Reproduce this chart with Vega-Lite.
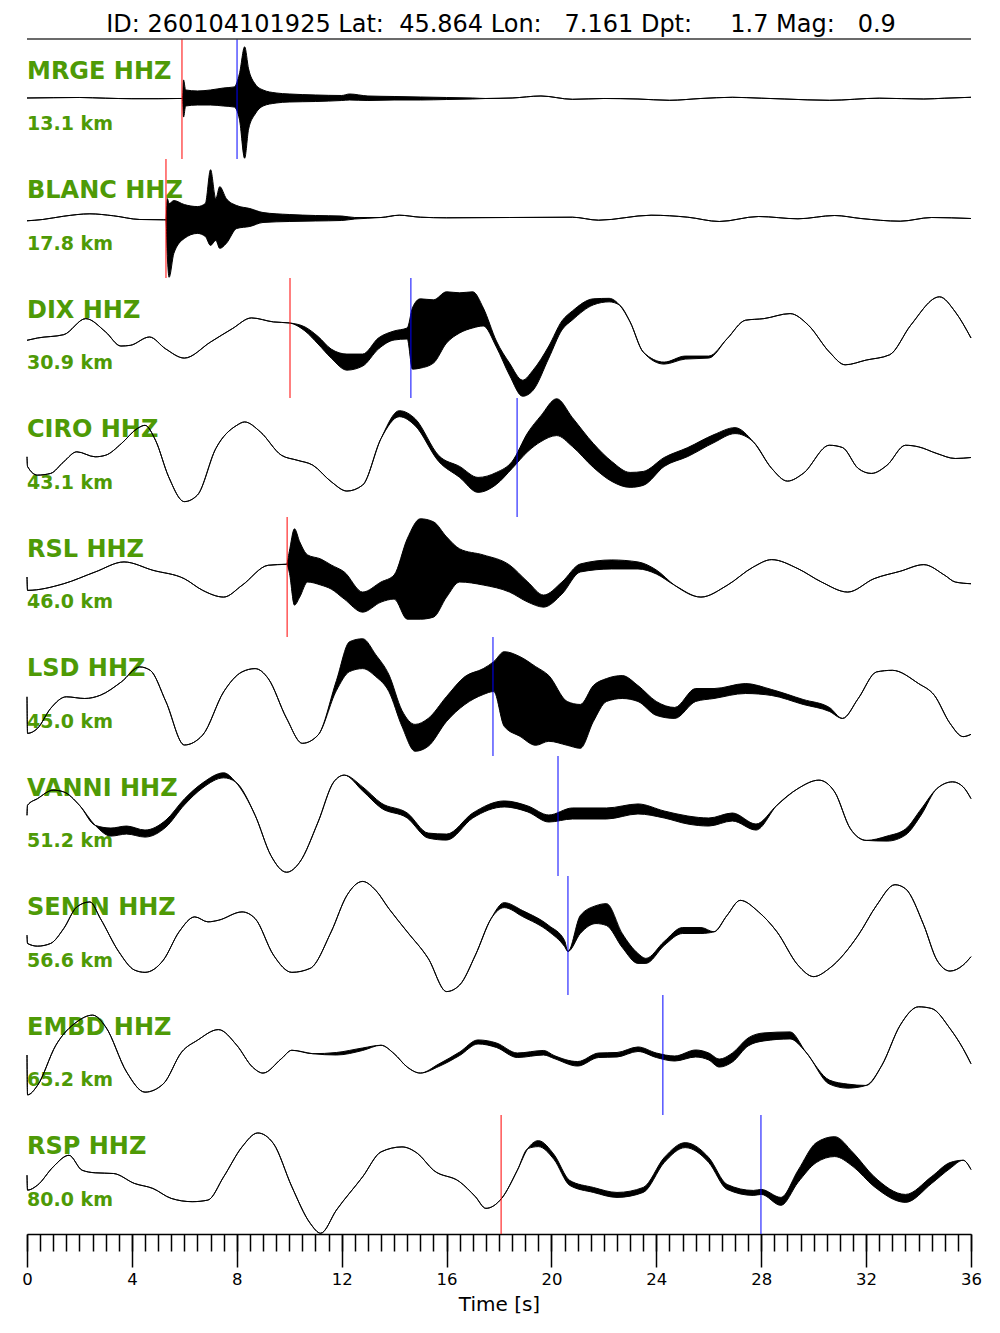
{
"$schema": "https://vega.github.io/schema/vega-lite/v6.json",
"padding": {"left": 21, "top": 13, "right": 5, "bottom": 5},
"bounds": "flush",
"spacing": 0,
"title": {"text": "ID: 260104101925 Lat:\u00a0\u00a045.864 Lon:\u00a0\u00a0\u00a07.161 Dpt:\u00a0\u00a0\u00a0\u00a0\u00a01.7 Mag:\u00a0\u00a0\u00a00.9", "font": "DejaVu Sans", "fontSize": 24, "fontWeight": "normal", "color": "black", "anchor": "middle", "offset": 1, "dx": 2, "frame": "group"},
"config": {"view": {"stroke": null}, "concat": {"spacing": 0}},
"datasets": {
"labels": [
{"sta": "MRGE", "name": "MRGE HHZ", "dist": "13.1 km"},
{"sta": "BLANC", "name": "BLANC HHZ", "dist": "17.8 km"},
{"sta": "DIX", "name": "DIX HHZ", "dist": "30.9 km"},
{"sta": "CIRO", "name": "CIRO HHZ", "dist": "43.1 km"},
{"sta": "RSL", "name": "RSL HHZ", "dist": "46.0 km"},
{"sta": "LSD", "name": "LSD HHZ", "dist": "45.0 km"},
{"sta": "VANNI", "name": "VANNI HHZ", "dist": "51.2 km"},
{"sta": "SENIN", "name": "SENIN HHZ", "dist": "56.6 km"},
{"sta": "EMBD", "name": "EMBD HHZ", "dist": "65.2 km"},
{"sta": "RSP", "name": "RSP HHZ", "dist": "80.0 km"}
],
"picks": [
{"sta": "MRGE", "t": 5.91, "phase": "P"},
{"sta": "MRGE", "t": 8.01, "phase": "S"},
{"sta": "BLANC", "t": 5.3, "phase": "P"},
{"sta": "DIX", "t": 10.03, "phase": "P"},
{"sta": "DIX", "t": 14.64, "phase": "S"},
{"sta": "CIRO", "t": 18.69, "phase": "S"},
{"sta": "RSL", "t": 9.92, "phase": "P"},
{"sta": "LSD", "t": 17.77, "phase": "S"},
{"sta": "VANNI", "t": 20.25, "phase": "S"},
{"sta": "SENIN", "t": 20.63, "phase": "S"},
{"sta": "EMBD", "t": 24.25, "phase": "S"},
{"sta": "RSP", "t": 18.08, "phase": "P"},
{"sta": "RSP", "t": 27.99, "phase": "S"}
],
"MRGE": [
{"t":0,"lo":1,"hi":1},{"t":1,"lo":1.3,"hi":1.3},{"t":2,"lo":1.5,"hi":1.5},{"t":3,"lo":0.8,"hi":0.8},{"t":4,"lo":0.3,"hi":0.3},{"t":5,"lo":0.3,"hi":0.3},{"t":5.8,"lo":0.5,"hi":0.5},{"t":5.93,"lo":0.5,"hi":0.5},{"t":5.97,"lo":-18,"hi":19},{"t":6.05,"lo":-7,"hi":9},{"t":6.5,"lo":-6,"hi":8},{"t":7,"lo":-6,"hi":9},{"t":7.5,"lo":-7,"hi":11},{"t":7.9,"lo":-8,"hi":12},{"t":8.1,"lo":-20,"hi":25},{"t":8.3,"lo":-59,"hi":52},{"t":8.45,"lo":-30,"hi":30},{"t":8.7,"lo":-15,"hi":15},{"t":9,"lo":-7,"hi":9},{"t":9.5,"lo":-4,"hi":6},{"t":10,"lo":-3,"hi":5},{"t":11,"lo":-2.5,"hi":4},{"t":12,"lo":-1.5,"hi":3.5},{"t":12.3,"lo":-1,"hi":5},{"t":13,"lo":-1.5,"hi":3},{"t":14,"lo":-1,"hi":2.5},{"t":15,"lo":-1,"hi":2},{"t":16,"lo":-0.5,"hi":1.5},{"t":17,"lo":0,"hi":1},{"t":17.5,"lo":0.5,"hi":0.5},{"t":18.5,"lo":1,"hi":1},{"t":19.6,"lo":3,"hi":3},{"t":20.8,"lo":-0.3,"hi":-0.3},{"t":22,"lo":0.5,"hi":0.5},{"t":23.3,"lo":0,"hi":0},{"t":24.5,"lo":-1.3,"hi":-1.3},{"t":25.7,"lo":0.5,"hi":0.5},{"t":26.9,"lo":1.7,"hi":1.7},{"t":28,"lo":0.8,"hi":0.8},{"t":28.9,"lo":0,"hi":0},{"t":30.6,"lo":-1.3,"hi":-1.3},{"t":32.5,"lo":0.8,"hi":0.8},{"t":34.2,"lo":0,"hi":0},{"t":35,"lo":0.8,"hi":0.8},{"t":36,"lo":1.7,"hi":1.7}
],
"BLANC": [
{"t":0,"lo":-2.3,"hi":-2.3},{"t":0.6,"lo":-1,"hi":-1},{"t":1.4,"lo":2.3,"hi":2.3},{"t":2.4,"lo":4.7,"hi":4.7},{"t":3.3,"lo":2.7,"hi":2.7},{"t":4.3,"lo":-1,"hi":-1},{"t":5.2,"lo":-1.3,"hi":-1.3},{"t":5.3,"lo":-1.3,"hi":-1.3},{"t":5.35,"lo":-37,"hi":20},{"t":5.42,"lo":-59,"hi":15},{"t":5.6,"lo":-35,"hi":18},{"t":6,"lo":-20,"hi":14},{"t":6.5,"lo":-15,"hi":12},{"t":6.8,"lo":-18,"hi":15},{"t":7,"lo":-27,"hi":49},{"t":7.2,"lo":-22,"hi":20},{"t":7.35,"lo":-30,"hi":32},{"t":7.6,"lo":-25,"hi":20},{"t":8,"lo":-10,"hi":13},{"t":8.5,"lo":-8,"hi":10},{"t":9,"lo":-4,"hi":6},{"t":10,"lo":-3,"hi":4},{"t":11,"lo":-2.5,"hi":3},{"t":12,"lo":-2,"hi":2.5},{"t":12.5,"lo":-0.5,"hi":1},{"t":13.5,"lo":1,"hi":1},{"t":14.2,"lo":3.3,"hi":3.3},{"t":15,"lo":1.3,"hi":1.3},{"t":16,"lo":0.7,"hi":0.7},{"t":18.4,"lo":1,"hi":1},{"t":20.8,"lo":1.3,"hi":1.3},{"t":21.8,"lo":-1.7,"hi":-1.7},{"t":23.8,"lo":3.3,"hi":3.3},{"t":25.2,"lo":1.3,"hi":1.3},{"t":26.4,"lo":-3,"hi":-3},{"t":27.9,"lo":2,"hi":2},{"t":29.4,"lo":-0.3,"hi":-0.3},{"t":30.8,"lo":3,"hi":3},{"t":31.8,"lo":0,"hi":0},{"t":33.3,"lo":-2.7,"hi":-2.7},{"t":34.5,"lo":1,"hi":1},{"t":36,"lo":0,"hi":0}
],
"DIX": [
{"t":0,"lo":-2.3,"hi":-2.3},{"t":0.4,"lo":0,"hi":0},{"t":1.4,"lo":3.3,"hi":3.3},{"t":2.24,"lo":19.3,"hi":19.3},{"t":3,"lo":6,"hi":6},{"t":3.58,"lo":-8,"hi":-8},{"t":3.94,"lo":-7.3,"hi":-7.3},{"t":4.67,"lo":1,"hi":1},{"t":5.28,"lo":-10.7,"hi":-10.7},{"t":6,"lo":-20,"hi":-20},{"t":7,"lo":-4,"hi":-4},{"t":7.83,"lo":9.3,"hi":9.3},{"t":8.56,"lo":20,"hi":20},{"t":9.4,"lo":16,"hi":16},{"t":10,"lo":15,"hi":15},{"t":10.6,"lo":7,"hi":11},{"t":11.1,"lo":-6,"hi":1.5},{"t":11.6,"lo":-20,"hi":-11},{"t":12.2,"lo":-32,"hi":-16},{"t":12.8,"lo":-28,"hi":-16},{"t":13.4,"lo":-11,"hi":0},{"t":14,"lo":-2,"hi":7},{"t":14.5,"lo":-1,"hi":10},{"t":14.7,"lo":-31,"hi":30},{"t":15,"lo":-30,"hi":39},{"t":15.5,"lo":-25,"hi":38},{"t":16,"lo":-5,"hi":46},{"t":16.5,"lo":5,"hi":45},{"t":17,"lo":10,"hi":46},{"t":17.4,"lo":12,"hi":30},{"t":17.9,"lo":-9,"hi":-3},{"t":18.4,"lo":-37,"hi":-25},{"t":18.9,"lo":-58,"hi":-42},{"t":19.3,"lo":-52,"hi":-32},{"t":19.9,"lo":-20,"hi":-8},{"t":20.4,"lo":8,"hi":17},{"t":20.8,"lo":18,"hi":27},{"t":21.6,"lo":33,"hi":39},{"t":22.2,"lo":36,"hi":39.5},{"t":22.6,"lo":32.7,"hi":32.7},{"t":23,"lo":16,"hi":16},{"t":23.5,"lo":-14,"hi":-14},{"t":24.3,"lo":-26,"hi":-24},{"t":25.1,"lo":-21,"hi":-18},{"t":26,"lo":-20,"hi":-18},{"t":26.7,"lo":-0.7,"hi":-0.7},{"t":27.4,"lo":17.7,"hi":17.7},{"t":28.1,"lo":19.3,"hi":19.3},{"t":29.1,"lo":24.3,"hi":24.3},{"t":29.8,"lo":12.7,"hi":12.7},{"t":30.6,"lo":-14,"hi":-14},{"t":31.2,"lo":-26.7,"hi":-26.7},{"t":32,"lo":-22,"hi":-22},{"t":32.9,"lo":-16.7,"hi":-16.7},{"t":33.7,"lo":12.7,"hi":12.7},{"t":34.8,"lo":41,"hi":41},{"t":35.4,"lo":26,"hi":26},{"t":36,"lo":0,"hi":0}
],
"CIRO": [
{"t":0,"lo":0.7,"hi":0.7},{"t":0.02,"lo":-9,"hi":-9},{"t":0.4,"lo":-17.7,"hi":-17.7},{"t":0.9,"lo":-16,"hi":-16},{"t":1.4,"lo":-4.3,"hi":-4.3},{"t":1.9,"lo":5.7,"hi":5.7},{"t":2.6,"lo":0.7,"hi":0.7},{"t":3,"lo":2.3,"hi":2.3},{"t":3.6,"lo":14,"hi":14},{"t":4.2,"lo":29,"hi":29},{"t":4.5,"lo":32.3,"hi":32.3},{"t":4.9,"lo":17.3,"hi":17.3},{"t":5.4,"lo":-19.3,"hi":-19.3},{"t":6,"lo":-44.3,"hi":-44.3},{"t":6.5,"lo":-37.7,"hi":-37.7},{"t":7.2,"lo":9,"hi":9},{"t":8,"lo":32.3,"hi":32.3},{"t":8.3,"lo":35.7,"hi":35.7},{"t":8.9,"lo":25.7,"hi":25.7},{"t":9.7,"lo":2.3,"hi":2.3},{"t":10.3,"lo":-2.7,"hi":-2.7},{"t":10.9,"lo":-7.7,"hi":-7.7},{"t":11.6,"lo":-24.3,"hi":-24.3},{"t":12.2,"lo":-33.7,"hi":-33.7},{"t":12.8,"lo":-27.7,"hi":-27.7},{"t":13.5,"lo":19,"hi":19},{"t":14.2,"lo":41,"hi":47},{"t":14.8,"lo":32,"hi":39},{"t":15.7,"lo":-4,"hi":2},{"t":16.5,"lo":-20,"hi":-9},{"t":17.2,"lo":-35,"hi":-20},{"t":17.9,"lo":-27,"hi":-15},{"t":18.5,"lo":-11,"hi":-4},{"t":19.1,"lo":6,"hi":25},{"t":19.6,"lo":16,"hi":42},{"t":20.2,"lo":22,"hi":59},{"t":20.8,"lo":11,"hi":40},{"t":21.6,"lo":-10,"hi":14},{"t":22.3,"lo":-24,"hi":-4},{"t":23,"lo":-30,"hi":-15},{"t":23.5,"lo":-28,"hi":-14},{"t":24.3,"lo":-9,"hi":0},{"t":25.2,"lo":1,"hi":10},{"t":26.2,"lo":15,"hi":23},{"t":27,"lo":24,"hi":30},{"t":27.7,"lo":15.7,"hi":15.7},{"t":28.4,"lo":-11,"hi":-11},{"t":29,"lo":-23.7,"hi":-23.7},{"t":29.6,"lo":-16,"hi":-16},{"t":30.6,"lo":12.3,"hi":12.3},{"t":31.1,"lo":10,"hi":10},{"t":31.7,"lo":-11,"hi":-11},{"t":32.2,"lo":-16,"hi":-16},{"t":32.8,"lo":-7.7,"hi":-7.7},{"t":33.5,"lo":12.3,"hi":12.3},{"t":34,"lo":10.7,"hi":10.7},{"t":34.7,"lo":4,"hi":4},{"t":35.4,"lo":-1,"hi":-1},{"t":36,"lo":0,"hi":0}
],
"RSL": [
{"t":0,"lo":0,"hi":0},{"t":0.02,"lo":-13.3,"hi":-13.3},{"t":1.4,"lo":-6.7,"hi":-6.7},{"t":2.6,"lo":5,"hi":5},{"t":3.7,"lo":15,"hi":15},{"t":4.8,"lo":6.7,"hi":6.7},{"t":6,"lo":-1.7,"hi":-1.7},{"t":6.7,"lo":-13.3,"hi":-13.3},{"t":7.5,"lo":-20,"hi":-20},{"t":8.2,"lo":-8.3,"hi":-8.3},{"t":9.2,"lo":11.7,"hi":11.7},{"t":9.9,"lo":12.7,"hi":12.7},{"t":10,"lo":5,"hi":25},{"t":10.2,"lo":-28,"hi":48},{"t":10.4,"lo":-20,"hi":35},{"t":10.7,"lo":-5,"hi":22},{"t":11.2,"lo":-8,"hi":18},{"t":11.6,"lo":-12,"hi":12},{"t":12.1,"lo":-22,"hi":5},{"t":12.8,"lo":-35,"hi":-15},{"t":13.5,"lo":-25,"hi":-5},{"t":14,"lo":-22,"hi":2},{"t":14.5,"lo":-42,"hi":38},{"t":15,"lo":-42,"hi":58},{"t":15.5,"lo":-40,"hi":55},{"t":16,"lo":-20,"hi":40},{"t":16.5,"lo":-5,"hi":28},{"t":17.4,"lo":-8,"hi":22},{"t":18.4,"lo":-15,"hi":12},{"t":19.1,"lo":-25,"hi":-5},{"t":19.7,"lo":-30,"hi":-18},{"t":20.4,"lo":-17,"hi":-5},{"t":21.1,"lo":5,"hi":13},{"t":22.3,"lo":8,"hi":17},{"t":23.3,"lo":8,"hi":15},{"t":24,"lo":3,"hi":7},{"t":24.7,"lo":-8.3,"hi":-8.3},{"t":25.7,"lo":-20,"hi":-20},{"t":26.7,"lo":-8.3,"hi":-8.3},{"t":27.7,"lo":10,"hi":10},{"t":28.4,"lo":17.3,"hi":17.3},{"t":29.4,"lo":8.3,"hi":8.3},{"t":30.3,"lo":-5,"hi":-5},{"t":31.3,"lo":-15,"hi":-15},{"t":32.3,"lo":-1.7,"hi":-1.7},{"t":33.3,"lo":5.7,"hi":5.7},{"t":34.2,"lo":12.3,"hi":12.3},{"t":35,"lo":1.7,"hi":1.7},{"t":35.4,"lo":-5,"hi":-5},{"t":36,"lo":-6.7,"hi":-6.7}
],
"LSD": [
{"t":0,"lo":-0.3,"hi":-0.3},{"t":0.02,"lo":-37,"hi":-37},{"t":0.4,"lo":-32,"hi":-32},{"t":0.9,"lo":-12,"hi":-12},{"t":1.5,"lo":-0.3,"hi":-0.3},{"t":2.2,"lo":-2,"hi":-2},{"t":2.8,"lo":1.3,"hi":1.3},{"t":3.6,"lo":14.7,"hi":14.7},{"t":4.3,"lo":29.7,"hi":29.7},{"t":4.7,"lo":26.3,"hi":26.3},{"t":5.3,"lo":-5.3,"hi":-5.3},{"t":6,"lo":-48.7,"hi":-48.7},{"t":6.7,"lo":-38.7,"hi":-38.7},{"t":7.5,"lo":4.7,"hi":4.7},{"t":8.2,"lo":24.7,"hi":24.7},{"t":8.7,"lo":28,"hi":28},{"t":9.2,"lo":18,"hi":18},{"t":9.9,"lo":-22,"hi":-22},{"t":10.5,"lo":-47,"hi":-47},{"t":11.1,"lo":-38.7,"hi":-38.7},{"t":11.8,"lo":6,"hi":16},{"t":12.3,"lo":25,"hi":55},{"t":12.8,"lo":28,"hi":58},{"t":13.3,"lo":20,"hi":42},{"t":13.8,"lo":5,"hi":22},{"t":14.3,"lo":-30,"hi":-14},{"t":14.8,"lo":-55,"hi":-28},{"t":15.3,"lo":-50,"hi":-22},{"t":16,"lo":-25,"hi":0},{"t":16.7,"lo":-8,"hi":20},{"t":17.4,"lo":2,"hi":28},{"t":17.8,"lo":5,"hi":35},{"t":18.2,"lo":-30,"hi":45},{"t":18.8,"lo":-40,"hi":40},{"t":19.4,"lo":-49,"hi":30},{"t":19.9,"lo":-45,"hi":21},{"t":20.6,"lo":-49,"hi":-5},{"t":21.1,"lo":-52,"hi":-8},{"t":21.6,"lo":-25,"hi":11},{"t":22.1,"lo":-5,"hi":18},{"t":22.7,"lo":-2,"hi":21},{"t":23.3,"lo":-5,"hi":11},{"t":24,"lo":-19,"hi":-5},{"t":24.7,"lo":-22,"hi":-11},{"t":25.5,"lo":-5,"hi":8},{"t":26.2,"lo":-2,"hi":8},{"t":27.4,"lo":3,"hi":13},{"t":28.4,"lo":1,"hi":7},{"t":29.6,"lo":-8,"hi":-3},{"t":30.6,"lo":-15,"hi":-11},{"t":31.1,"lo":-22,"hi":-22},{"t":31.7,"lo":-2,"hi":-2},{"t":32.4,"lo":24.7,"hi":24.7},{"t":33,"lo":26.3,"hi":26.3},{"t":34,"lo":13,"hi":13},{"t":34.6,"lo":1.3,"hi":1.3},{"t":35.2,"lo":-27,"hi":-27},{"t":35.7,"lo":-40.3,"hi":-40.3},{"t":36,"lo":-38,"hi":-38}
],
"VANNI": [
{"t":0,"lo":0.7,"hi":0.7},{"t":0.02,"lo":10.7,"hi":10.7},{"t":0.4,"lo":17.3,"hi":17.3},{"t":1,"lo":25.7,"hi":25.7},{"t":1.4,"lo":24,"hi":24},{"t":2,"lo":10.7,"hi":10.7},{"t":2.6,"lo":-9.3,"hi":-9.3},{"t":3.2,"lo":-20,"hi":-12},{"t":3.8,"lo":-18,"hi":-10},{"t":4.5,"lo":-21,"hi":-14},{"t":5.3,"lo":-11,"hi":-4},{"t":6,"lo":11,"hi":17},{"t":6.7,"lo":28,"hi":33},{"t":7.5,"lo":38,"hi":43},{"t":7.95,"lo":34,"hi":34},{"t":8.7,"lo":0.7,"hi":0.7},{"t":9.3,"lo":-39.3,"hi":-39.3},{"t":9.9,"lo":-56,"hi":-56},{"t":10.4,"lo":-46,"hi":-46},{"t":11.1,"lo":-6,"hi":-6},{"t":11.7,"lo":34,"hi":34},{"t":12.1,"lo":40.7,"hi":40.7},{"t":12.8,"lo":25,"hi":29},{"t":13.5,"lo":8,"hi":13},{"t":14.5,"lo":-2,"hi":3},{"t":15.3,"lo":-22,"hi":-17},{"t":16,"lo":-24,"hi":-18},{"t":17,"lo":-2,"hi":3},{"t":18.2,"lo":9,"hi":15},{"t":19.1,"lo":4,"hi":10},{"t":19.9,"lo":-6,"hi":1},{"t":20.8,"lo":-3,"hi":8},{"t":22.1,"lo":-3,"hi":8},{"t":23.3,"lo":2,"hi":12},{"t":24.3,"lo":-2,"hi":5},{"t":25.2,"lo":-8,"hi":0},{"t":26,"lo":-10,"hi":-2},{"t":26.9,"lo":-5,"hi":3},{"t":27.8,"lo":-14,"hi":-8},{"t":28.6,"lo":10.7,"hi":10.7},{"t":29.4,"lo":27.3,"hi":27.3},{"t":30.2,"lo":35.7,"hi":35.7},{"t":30.8,"lo":24,"hi":24},{"t":31.4,"lo":-12.7,"hi":-12.7},{"t":32,"lo":-24.3,"hi":-24.3},{"t":32.8,"lo":-25,"hi":-20},{"t":33.5,"lo":-19,"hi":-13},{"t":34.1,"lo":1,"hi":7},{"t":34.7,"lo":27.3,"hi":27.3},{"t":35.3,"lo":34,"hi":34},{"t":35.7,"lo":29,"hi":29},{"t":36,"lo":17.3,"hi":17.3}
],
"SENIN": [
{"t":0,"lo":0.3,"hi":0.3},{"t":0.02,"lo":-8,"hi":-8},{"t":0.4,"lo":-10.7,"hi":-10.7},{"t":0.9,"lo":-8,"hi":-8},{"t":1.4,"lo":7,"hi":7},{"t":1.9,"lo":28.7,"hi":28.7},{"t":2.4,"lo":33.7,"hi":33.7},{"t":2.8,"lo":17,"hi":17},{"t":3.5,"lo":-16.3,"hi":-16.3},{"t":4.1,"lo":-34.7,"hi":-34.7},{"t":4.5,"lo":-37,"hi":-37},{"t":5.2,"lo":-24.7,"hi":-24.7},{"t":5.8,"lo":3.7,"hi":3.7},{"t":6.4,"lo":18.7,"hi":18.7},{"t":6.9,"lo":13.7,"hi":13.7},{"t":7.3,"lo":15.3,"hi":15.3},{"t":8.2,"lo":23.7,"hi":23.7},{"t":8.7,"lo":17,"hi":17},{"t":9.4,"lo":-19.7,"hi":-19.7},{"t":10.1,"lo":-37,"hi":-37},{"t":10.8,"lo":-33,"hi":-33},{"t":11.6,"lo":3.7,"hi":3.7},{"t":12.2,"lo":40.3,"hi":40.3},{"t":12.8,"lo":54.3,"hi":54.3},{"t":13.3,"lo":45.3,"hi":45.3},{"t":13.8,"lo":27,"hi":27},{"t":14.5,"lo":3.7,"hi":3.7},{"t":15.3,"lo":-23,"hi":-23},{"t":16,"lo":-56.3,"hi":-56.3},{"t":16.5,"lo":-49.7,"hi":-49.7},{"t":17.1,"lo":-19.7,"hi":-19.7},{"t":17.7,"lo":17,"hi":17},{"t":18.2,"lo":28,"hi":33},{"t":18.9,"lo":19,"hi":25},{"t":19.9,"lo":4,"hi":10},{"t":20.5,"lo":-11,"hi":-5},{"t":20.63,"lo":-16,"hi":-16},{"t":21.1,"lo":2,"hi":20},{"t":21.7,"lo":12,"hi":30},{"t":22.1,"lo":10,"hi":32},{"t":22.7,"lo":-12,"hi":2},{"t":23.3,"lo":-28,"hi":-18},{"t":23.6,"lo":-28,"hi":-23},{"t":24.3,"lo":-10,"hi":-6},{"t":25,"lo":2,"hi":8},{"t":25.7,"lo":2,"hi":8},{"t":26.2,"lo":3.7,"hi":3.7},{"t":26.7,"lo":20.3,"hi":20.3},{"t":27.2,"lo":35.3,"hi":35.3},{"t":27.9,"lo":23.7,"hi":23.7},{"t":28.6,"lo":3.7,"hi":3.7},{"t":29.4,"lo":-29.7,"hi":-29.7},{"t":30,"lo":-41.3,"hi":-41.3},{"t":30.6,"lo":-33,"hi":-33},{"t":31.7,"lo":0.3,"hi":0.3},{"t":32.4,"lo":30.3,"hi":30.3},{"t":33.1,"lo":51,"hi":51},{"t":33.5,"lo":47,"hi":47},{"t":34.2,"lo":10.3,"hi":10.3},{"t":34.7,"lo":-24.7,"hi":-24.7},{"t":35.2,"lo":-35.7,"hi":-35.7},{"t":35.7,"lo":-29.7,"hi":-29.7},{"t":36,"lo":-21.3,"hi":-21.3}
],
"EMBD": [
{"t":0,"lo":0,"hi":0},{"t":0.02,"lo":-39.7,"hi":-39.7},{"t":0.4,"lo":-30.3,"hi":-30.3},{"t":1.1,"lo":9.7,"hi":9.7},{"t":1.9,"lo":33,"hi":33},{"t":2.5,"lo":39.7,"hi":39.7},{"t":3,"lo":28,"hi":28},{"t":3.8,"lo":-17,"hi":-17},{"t":4.5,"lo":-37,"hi":-37},{"t":5.2,"lo":-28.7,"hi":-28.7},{"t":5.9,"lo":3,"hi":3},{"t":6.5,"lo":14.7,"hi":14.7},{"t":7.3,"lo":25.3,"hi":25.3},{"t":8,"lo":9.7,"hi":9.7},{"t":8.6,"lo":-12,"hi":-12},{"t":9,"lo":-18,"hi":-18},{"t":9.7,"lo":-3.7,"hi":-3.7},{"t":10.1,"lo":4.7,"hi":4.7},{"t":10.9,"lo":1.3,"hi":1.3},{"t":11.8,"lo":0,"hi":2.5},{"t":12.8,"lo":4.5,"hi":7},{"t":13.5,"lo":9.7,"hi":9.7},{"t":14,"lo":1.3,"hi":1.3},{"t":14.5,"lo":-12,"hi":-12},{"t":15,"lo":-18,"hi":-18},{"t":15.7,"lo":-11.5,"hi":-9},{"t":16.5,"lo":-0.5,"hi":3},{"t":17.2,"lo":11,"hi":15},{"t":17.9,"lo":7.5,"hi":12},{"t":18.7,"lo":-2.5,"hi":2},{"t":19.7,"lo":0,"hi":4.5},{"t":20.1,"lo":-3.5,"hi":-0.5},{"t":21,"lo":-11,"hi":-6.5},{"t":21.8,"lo":-2.5,"hi":2},{"t":22.5,"lo":-2,"hi":2.5},{"t":23.3,"lo":3.5,"hi":8},{"t":24,"lo":-2.5,"hi":2},{"t":24.7,"lo":-6,"hi":-1},{"t":25.5,"lo":-2,"hi":5},{"t":26,"lo":-5,"hi":2},{"t":26.4,"lo":-12,"hi":-4},{"t":26.9,"lo":-7,"hi":2},{"t":27.5,"lo":9,"hi":17},{"t":28.1,"lo":14,"hi":22},{"t":29.1,"lo":16,"hi":23},{"t":29.7,"lo":3,"hi":3},{"t":30.6,"lo":-29,"hi":-25},{"t":31.3,"lo":-33,"hi":-29},{"t":32,"lo":-30.3,"hi":-30.3},{"t":32.6,"lo":-10.3,"hi":-10.3},{"t":33.3,"lo":29.7,"hi":29.7},{"t":34,"lo":48,"hi":48},{"t":34.5,"lo":46.3,"hi":46.3},{"t":35.2,"lo":26.3,"hi":26.3},{"t":35.7,"lo":6.3,"hi":6.3},{"t":36,"lo":-8.7,"hi":-8.7}
],
"RSP": [
{"t":0,"lo":-0.7,"hi":-0.7},{"t":0.02,"lo":-15.7,"hi":-15.7},{"t":0.4,"lo":-10.7,"hi":-10.7},{"t":1,"lo":7.7,"hi":7.7},{"t":1.6,"lo":19.3,"hi":19.3},{"t":2.1,"lo":4.3,"hi":4.3},{"t":2.6,"lo":1.7,"hi":1.7},{"t":3.3,"lo":1,"hi":1},{"t":4.1,"lo":-9,"hi":-9},{"t":4.8,"lo":-14,"hi":-14},{"t":5.5,"lo":-24,"hi":-24},{"t":6.3,"lo":-27.3,"hi":-27.3},{"t":6.9,"lo":-25.7,"hi":-25.7},{"t":7.5,"lo":-2.3,"hi":-2.3},{"t":8.2,"lo":27.7,"hi":27.7},{"t":8.8,"lo":41.7,"hi":41.7},{"t":9.4,"lo":31,"hi":31},{"t":10.1,"lo":-12.3,"hi":-12.3},{"t":10.8,"lo":-49,"hi":-49},{"t":11.2,"lo":-59,"hi":-59},{"t":11.8,"lo":-35.7,"hi":-35.7},{"t":12.8,"lo":-2.3,"hi":-2.3},{"t":13.5,"lo":22.7,"hi":22.7},{"t":14.3,"lo":27.7,"hi":27.7},{"t":14.9,"lo":21,"hi":21},{"t":15.5,"lo":4.3,"hi":4.3},{"t":16.5,"lo":-7.3,"hi":-7.3},{"t":17.1,"lo":-22.3,"hi":-22.3},{"t":17.5,"lo":-34,"hi":-34},{"t":18.1,"lo":-24,"hi":-24},{"t":18.7,"lo":4.3,"hi":4.3},{"t":19.1,"lo":26,"hi":26},{"t":19.5,"lo":28,"hi":34},{"t":20.1,"lo":15,"hi":20},{"t":20.7,"lo":-11,"hi":-6},{"t":21.6,"lo":-18,"hi":-13},{"t":22.5,"lo":-23,"hi":-18},{"t":23.5,"lo":-18,"hi":-13},{"t":24.3,"lo":12,"hi":17},{"t":25.1,"lo":27,"hi":32},{"t":26,"lo":12,"hi":17},{"t":26.7,"lo":-15,"hi":-10},{"t":27.7,"lo":-21,"hi":-16},{"t":28,"lo":-20,"hi":-15},{"t":28.75,"lo":-31,"hi":-23},{"t":29.4,"lo":-8,"hi":4},{"t":30.1,"lo":12,"hi":32},{"t":30.8,"lo":18,"hi":38},{"t":31.5,"lo":8,"hi":22},{"t":32.3,"lo":-12,"hi":-2},{"t":33.5,"lo":-28,"hi":-20},{"t":34.5,"lo":-9,"hi":-2},{"t":35.2,"lo":6,"hi":12},{"t":35.7,"lo":14.3,"hi":14.3},{"t":36,"lo":5,"hi":5}
]
},
"vconcat": [
{"width": 944, "height": 120, "layer": [
{"data": {"name": "labels"}, "transform": [{"filter": "datum.sta == 'MRGE'"}], "mark": {"type": "text", "align": "left", "baseline": "alphabetic", "font": "DejaVu Sans", "fontWeight": "bold", "fontSize": 24, "color": "#4e9a06"}, "encoding": {"x": {"datum": 0, "type": "quantitative", "scale": {"domain": [0, 36], "nice": false, "zero": false}, "axis": null}, "y": {"datum": 20.4, "type": "quantitative", "scale": {"domain": [-59.75, 59.75], "nice": false, "zero": false}, "axis": null}, "text": {"field": "name"}}},
{"data": {"name": "labels"}, "transform": [{"filter": "datum.sta == 'MRGE'"}], "mark": {"type": "text", "align": "left", "baseline": "alphabetic", "font": "DejaVu Sans", "fontWeight": "bold", "fontSize": 19, "color": "#4e9a06"}, "encoding": {"x": {"datum": 0, "type": "quantitative", "axis": null}, "y": {"datum": -31.25, "type": "quantitative", "axis": null}, "text": {"field": "dist"}}},
{"data": {"name": "MRGE"}, "mark": {"type": "area", "interpolate": "monotone", "color": "black", "opacity": 1, "stroke": "black", "strokeWidth": 1, "strokeJoin": "round"}, "encoding": {"x": {"field": "t", "type": "quantitative", "axis": null}, "y": {"field": "hi", "type": "quantitative", "axis": null}, "y2": {"field": "lo"}}},
{"data": {"name": "picks"}, "transform": [{"filter": "datum.sta == 'MRGE'"}], "mark": {"type": "rule", "strokeWidth": 1}, "encoding": {"x": {"field": "t", "type": "quantitative", "axis": null}, "color": {"field": "phase", "type": "nominal", "scale": {"domain": ["P", "S"], "range": ["#ff0000", "#0000ff"]}, "legend": null}}},
{"data": {"name": "labels"}, "transform": [{"filter": "datum.sta == 'MRGE'"}], "mark": {"type": "rule", "color": "#3a3a3a", "strokeWidth": 1.6}, "encoding": {"y": {"datum": 59.75, "type": "quantitative", "axis": null}}}
]},
{"width": 944, "height": 119, "layer": [
{"data": {"name": "labels"}, "transform": [{"filter": "datum.sta == 'BLANC'"}], "mark": {"type": "text", "align": "left", "baseline": "alphabetic", "font": "DejaVu Sans", "fontWeight": "bold", "fontSize": 24, "color": "#4e9a06"}, "encoding": {"x": {"datum": 0, "type": "quantitative", "scale": {"domain": [0, 36], "nice": false, "zero": false}, "axis": null}, "y": {"datum": 20.4, "type": "quantitative", "scale": {"domain": [-59.75, 59.75], "nice": false, "zero": false}, "axis": null}, "text": {"field": "name"}}},
{"data": {"name": "labels"}, "transform": [{"filter": "datum.sta == 'BLANC'"}], "mark": {"type": "text", "align": "left", "baseline": "alphabetic", "font": "DejaVu Sans", "fontWeight": "bold", "fontSize": 19, "color": "#4e9a06"}, "encoding": {"x": {"datum": 0, "type": "quantitative", "axis": null}, "y": {"datum": -31.25, "type": "quantitative", "axis": null}, "text": {"field": "dist"}}},
{"data": {"name": "BLANC"}, "mark": {"type": "area", "interpolate": "monotone", "color": "black", "opacity": 1, "stroke": "black", "strokeWidth": 1, "strokeJoin": "round"}, "encoding": {"x": {"field": "t", "type": "quantitative", "axis": null}, "y": {"field": "hi", "type": "quantitative", "axis": null}, "y2": {"field": "lo"}}},
{"data": {"name": "picks"}, "transform": [{"filter": "datum.sta == 'BLANC'"}], "mark": {"type": "rule", "strokeWidth": 1}, "encoding": {"x": {"field": "t", "type": "quantitative", "axis": null}, "color": {"field": "phase", "type": "nominal", "scale": {"domain": ["P", "S"], "range": ["#ff0000", "#0000ff"]}, "legend": null}}}
]},
{"width": 944, "height": 120, "layer": [
{"data": {"name": "labels"}, "transform": [{"filter": "datum.sta == 'DIX'"}], "mark": {"type": "text", "align": "left", "baseline": "alphabetic", "font": "DejaVu Sans", "fontWeight": "bold", "fontSize": 24, "color": "#4e9a06"}, "encoding": {"x": {"datum": 0, "type": "quantitative", "scale": {"domain": [0, 36], "nice": false, "zero": false}, "axis": null}, "y": {"datum": 20.4, "type": "quantitative", "scale": {"domain": [-59.75, 59.75], "nice": false, "zero": false}, "axis": null}, "text": {"field": "name"}}},
{"data": {"name": "labels"}, "transform": [{"filter": "datum.sta == 'DIX'"}], "mark": {"type": "text", "align": "left", "baseline": "alphabetic", "font": "DejaVu Sans", "fontWeight": "bold", "fontSize": 19, "color": "#4e9a06"}, "encoding": {"x": {"datum": 0, "type": "quantitative", "axis": null}, "y": {"datum": -31.25, "type": "quantitative", "axis": null}, "text": {"field": "dist"}}},
{"data": {"name": "DIX"}, "mark": {"type": "area", "interpolate": "monotone", "color": "black", "opacity": 1, "stroke": "black", "strokeWidth": 1, "strokeJoin": "round"}, "encoding": {"x": {"field": "t", "type": "quantitative", "axis": null}, "y": {"field": "hi", "type": "quantitative", "axis": null}, "y2": {"field": "lo"}}},
{"data": {"name": "picks"}, "transform": [{"filter": "datum.sta == 'DIX'"}], "mark": {"type": "rule", "strokeWidth": 1}, "encoding": {"x": {"field": "t", "type": "quantitative", "axis": null}, "color": {"field": "phase", "type": "nominal", "scale": {"domain": ["P", "S"], "range": ["#ff0000", "#0000ff"]}, "legend": null}}}
]},
{"width": 944, "height": 119, "layer": [
{"data": {"name": "labels"}, "transform": [{"filter": "datum.sta == 'CIRO'"}], "mark": {"type": "text", "align": "left", "baseline": "alphabetic", "font": "DejaVu Sans", "fontWeight": "bold", "fontSize": 24, "color": "#4e9a06"}, "encoding": {"x": {"datum": 0, "type": "quantitative", "scale": {"domain": [0, 36], "nice": false, "zero": false}, "axis": null}, "y": {"datum": 20.4, "type": "quantitative", "scale": {"domain": [-59.75, 59.75], "nice": false, "zero": false}, "axis": null}, "text": {"field": "name"}}},
{"data": {"name": "labels"}, "transform": [{"filter": "datum.sta == 'CIRO'"}], "mark": {"type": "text", "align": "left", "baseline": "alphabetic", "font": "DejaVu Sans", "fontWeight": "bold", "fontSize": 19, "color": "#4e9a06"}, "encoding": {"x": {"datum": 0, "type": "quantitative", "axis": null}, "y": {"datum": -31.25, "type": "quantitative", "axis": null}, "text": {"field": "dist"}}},
{"data": {"name": "CIRO"}, "mark": {"type": "area", "interpolate": "monotone", "color": "black", "opacity": 1, "stroke": "black", "strokeWidth": 1, "strokeJoin": "round"}, "encoding": {"x": {"field": "t", "type": "quantitative", "axis": null}, "y": {"field": "hi", "type": "quantitative", "axis": null}, "y2": {"field": "lo"}}},
{"data": {"name": "picks"}, "transform": [{"filter": "datum.sta == 'CIRO'"}], "mark": {"type": "rule", "strokeWidth": 1}, "encoding": {"x": {"field": "t", "type": "quantitative", "axis": null}, "color": {"field": "phase", "type": "nominal", "scale": {"domain": ["P", "S"], "range": ["#ff0000", "#0000ff"]}, "legend": null}}}
]},
{"width": 944, "height": 120, "layer": [
{"data": {"name": "labels"}, "transform": [{"filter": "datum.sta == 'RSL'"}], "mark": {"type": "text", "align": "left", "baseline": "alphabetic", "font": "DejaVu Sans", "fontWeight": "bold", "fontSize": 24, "color": "#4e9a06"}, "encoding": {"x": {"datum": 0, "type": "quantitative", "scale": {"domain": [0, 36], "nice": false, "zero": false}, "axis": null}, "y": {"datum": 20.4, "type": "quantitative", "scale": {"domain": [-59.75, 59.75], "nice": false, "zero": false}, "axis": null}, "text": {"field": "name"}}},
{"data": {"name": "labels"}, "transform": [{"filter": "datum.sta == 'RSL'"}], "mark": {"type": "text", "align": "left", "baseline": "alphabetic", "font": "DejaVu Sans", "fontWeight": "bold", "fontSize": 19, "color": "#4e9a06"}, "encoding": {"x": {"datum": 0, "type": "quantitative", "axis": null}, "y": {"datum": -31.25, "type": "quantitative", "axis": null}, "text": {"field": "dist"}}},
{"data": {"name": "RSL"}, "mark": {"type": "area", "interpolate": "monotone", "color": "black", "opacity": 1, "stroke": "black", "strokeWidth": 1, "strokeJoin": "round"}, "encoding": {"x": {"field": "t", "type": "quantitative", "axis": null}, "y": {"field": "hi", "type": "quantitative", "axis": null}, "y2": {"field": "lo"}}},
{"data": {"name": "picks"}, "transform": [{"filter": "datum.sta == 'RSL'"}], "mark": {"type": "rule", "strokeWidth": 1}, "encoding": {"x": {"field": "t", "type": "quantitative", "axis": null}, "color": {"field": "phase", "type": "nominal", "scale": {"domain": ["P", "S"], "range": ["#ff0000", "#0000ff"]}, "legend": null}}}
]},
{"width": 944, "height": 119, "layer": [
{"data": {"name": "labels"}, "transform": [{"filter": "datum.sta == 'LSD'"}], "mark": {"type": "text", "align": "left", "baseline": "alphabetic", "font": "DejaVu Sans", "fontWeight": "bold", "fontSize": 24, "color": "#4e9a06"}, "encoding": {"x": {"datum": 0, "type": "quantitative", "scale": {"domain": [0, 36], "nice": false, "zero": false}, "axis": null}, "y": {"datum": 20.4, "type": "quantitative", "scale": {"domain": [-59.75, 59.75], "nice": false, "zero": false}, "axis": null}, "text": {"field": "name"}}},
{"data": {"name": "labels"}, "transform": [{"filter": "datum.sta == 'LSD'"}], "mark": {"type": "text", "align": "left", "baseline": "alphabetic", "font": "DejaVu Sans", "fontWeight": "bold", "fontSize": 19, "color": "#4e9a06"}, "encoding": {"x": {"datum": 0, "type": "quantitative", "axis": null}, "y": {"datum": -31.25, "type": "quantitative", "axis": null}, "text": {"field": "dist"}}},
{"data": {"name": "LSD"}, "mark": {"type": "area", "interpolate": "monotone", "color": "black", "opacity": 1, "stroke": "black", "strokeWidth": 1, "strokeJoin": "round"}, "encoding": {"x": {"field": "t", "type": "quantitative", "axis": null}, "y": {"field": "hi", "type": "quantitative", "axis": null}, "y2": {"field": "lo"}}},
{"data": {"name": "picks"}, "transform": [{"filter": "datum.sta == 'LSD'"}], "mark": {"type": "rule", "strokeWidth": 1}, "encoding": {"x": {"field": "t", "type": "quantitative", "axis": null}, "color": {"field": "phase", "type": "nominal", "scale": {"domain": ["P", "S"], "range": ["#ff0000", "#0000ff"]}, "legend": null}}}
]},
{"width": 944, "height": 120, "layer": [
{"data": {"name": "labels"}, "transform": [{"filter": "datum.sta == 'VANNI'"}], "mark": {"type": "text", "align": "left", "baseline": "alphabetic", "font": "DejaVu Sans", "fontWeight": "bold", "fontSize": 24, "color": "#4e9a06"}, "encoding": {"x": {"datum": 0, "type": "quantitative", "scale": {"domain": [0, 36], "nice": false, "zero": false}, "axis": null}, "y": {"datum": 20.4, "type": "quantitative", "scale": {"domain": [-59.75, 59.75], "nice": false, "zero": false}, "axis": null}, "text": {"field": "name"}}},
{"data": {"name": "labels"}, "transform": [{"filter": "datum.sta == 'VANNI'"}], "mark": {"type": "text", "align": "left", "baseline": "alphabetic", "font": "DejaVu Sans", "fontWeight": "bold", "fontSize": 19, "color": "#4e9a06"}, "encoding": {"x": {"datum": 0, "type": "quantitative", "axis": null}, "y": {"datum": -31.25, "type": "quantitative", "axis": null}, "text": {"field": "dist"}}},
{"data": {"name": "VANNI"}, "mark": {"type": "area", "interpolate": "monotone", "color": "black", "opacity": 1, "stroke": "black", "strokeWidth": 1, "strokeJoin": "round"}, "encoding": {"x": {"field": "t", "type": "quantitative", "axis": null}, "y": {"field": "hi", "type": "quantitative", "axis": null}, "y2": {"field": "lo"}}},
{"data": {"name": "picks"}, "transform": [{"filter": "datum.sta == 'VANNI'"}], "mark": {"type": "rule", "strokeWidth": 1}, "encoding": {"x": {"field": "t", "type": "quantitative", "axis": null}, "color": {"field": "phase", "type": "nominal", "scale": {"domain": ["P", "S"], "range": ["#ff0000", "#0000ff"]}, "legend": null}}}
]},
{"width": 944, "height": 119, "layer": [
{"data": {"name": "labels"}, "transform": [{"filter": "datum.sta == 'SENIN'"}], "mark": {"type": "text", "align": "left", "baseline": "alphabetic", "font": "DejaVu Sans", "fontWeight": "bold", "fontSize": 24, "color": "#4e9a06"}, "encoding": {"x": {"datum": 0, "type": "quantitative", "scale": {"domain": [0, 36], "nice": false, "zero": false}, "axis": null}, "y": {"datum": 20.4, "type": "quantitative", "scale": {"domain": [-59.75, 59.75], "nice": false, "zero": false}, "axis": null}, "text": {"field": "name"}}},
{"data": {"name": "labels"}, "transform": [{"filter": "datum.sta == 'SENIN'"}], "mark": {"type": "text", "align": "left", "baseline": "alphabetic", "font": "DejaVu Sans", "fontWeight": "bold", "fontSize": 19, "color": "#4e9a06"}, "encoding": {"x": {"datum": 0, "type": "quantitative", "axis": null}, "y": {"datum": -31.25, "type": "quantitative", "axis": null}, "text": {"field": "dist"}}},
{"data": {"name": "SENIN"}, "mark": {"type": "area", "interpolate": "monotone", "color": "black", "opacity": 1, "stroke": "black", "strokeWidth": 1, "strokeJoin": "round"}, "encoding": {"x": {"field": "t", "type": "quantitative", "axis": null}, "y": {"field": "hi", "type": "quantitative", "axis": null}, "y2": {"field": "lo"}}},
{"data": {"name": "picks"}, "transform": [{"filter": "datum.sta == 'SENIN'"}], "mark": {"type": "rule", "strokeWidth": 1}, "encoding": {"x": {"field": "t", "type": "quantitative", "axis": null}, "color": {"field": "phase", "type": "nominal", "scale": {"domain": ["P", "S"], "range": ["#ff0000", "#0000ff"]}, "legend": null}}}
]},
{"width": 944, "height": 120, "layer": [
{"data": {"name": "labels"}, "transform": [{"filter": "datum.sta == 'EMBD'"}], "mark": {"type": "text", "align": "left", "baseline": "alphabetic", "font": "DejaVu Sans", "fontWeight": "bold", "fontSize": 24, "color": "#4e9a06"}, "encoding": {"x": {"datum": 0, "type": "quantitative", "scale": {"domain": [0, 36], "nice": false, "zero": false}, "axis": null}, "y": {"datum": 20.4, "type": "quantitative", "scale": {"domain": [-59.75, 59.75], "nice": false, "zero": false}, "axis": null}, "text": {"field": "name"}}},
{"data": {"name": "labels"}, "transform": [{"filter": "datum.sta == 'EMBD'"}], "mark": {"type": "text", "align": "left", "baseline": "alphabetic", "font": "DejaVu Sans", "fontWeight": "bold", "fontSize": 19, "color": "#4e9a06"}, "encoding": {"x": {"datum": 0, "type": "quantitative", "axis": null}, "y": {"datum": -31.25, "type": "quantitative", "axis": null}, "text": {"field": "dist"}}},
{"data": {"name": "EMBD"}, "mark": {"type": "area", "interpolate": "monotone", "color": "black", "opacity": 1, "stroke": "black", "strokeWidth": 1, "strokeJoin": "round"}, "encoding": {"x": {"field": "t", "type": "quantitative", "axis": null}, "y": {"field": "hi", "type": "quantitative", "axis": null}, "y2": {"field": "lo"}}},
{"data": {"name": "picks"}, "transform": [{"filter": "datum.sta == 'EMBD'"}], "mark": {"type": "rule", "strokeWidth": 1}, "encoding": {"x": {"field": "t", "type": "quantitative", "axis": null}, "color": {"field": "phase", "type": "nominal", "scale": {"domain": ["P", "S"], "range": ["#ff0000", "#0000ff"]}, "legend": null}}}
]},
{"width": 944, "height": 119, "resolve": {"axis": {"x": "independent"}}, "layer": [
{"data": {"name": "labels"}, "transform": [{"filter": "datum.sta == 'RSP'"}], "mark": {"type": "text", "align": "left", "baseline": "alphabetic", "font": "DejaVu Sans", "fontWeight": "bold", "fontSize": 24, "color": "#4e9a06"}, "encoding": {"x": {"datum": 0, "type": "quantitative", "scale": {"domain": [0, 36], "nice": false, "zero": false}, "axis": null}, "y": {"datum": 20.4, "type": "quantitative", "scale": {"domain": [-59.75, 59.75], "nice": false, "zero": false}, "axis": null}, "text": {"field": "name"}}},
{"data": {"name": "labels"}, "transform": [{"filter": "datum.sta == 'RSP'"}], "mark": {"type": "text", "align": "left", "baseline": "alphabetic", "font": "DejaVu Sans", "fontWeight": "bold", "fontSize": 19, "color": "#4e9a06"}, "encoding": {"x": {"datum": 0, "type": "quantitative", "axis": null}, "y": {"datum": -31.25, "type": "quantitative", "axis": null}, "text": {"field": "dist"}}},
{"data": {"name": "RSP"}, "mark": {"type": "area", "interpolate": "monotone", "color": "black", "opacity": 1, "stroke": "black", "strokeWidth": 1, "strokeJoin": "round"}, "encoding": {"x": {"field": "t", "type": "quantitative", "axis": {"orient": "bottom", "values": [0, 4, 8, 12, 16, 20, 24, 28, 32, 36], "tickSize": 33, "tickWidth": 1.5, "tickColor": "black", "domain": true, "domainColor": "black", "domainWidth": 1.6, "grid": false, "labelFont": "DejaVu Sans", "labelFontSize": 16.5, "labelColor": "black", "labelPadding": 4, "labelFlush": false, "labelOverlap": false, "title": "Time [s]", "titleFont": "DejaVu Sans", "titleFontSize": 20, "titleFontWeight": "normal", "titleColor": "black", "titlePadding": 7}}, "y": {"field": "hi", "type": "quantitative", "axis": null}, "y2": {"field": "lo"}}},
{"data": {"name": "picks"}, "transform": [{"filter": "datum.sta == 'RSP'"}], "mark": {"type": "rule", "strokeWidth": 1}, "encoding": {"x": {"field": "t", "type": "quantitative", "axis": {"orient": "bottom", "values": [0,0.5,1,1.5,2,2.5,3,3.5,4,4.5,5,5.5,6,6.5,7,7.5,8,8.5,9,9.5,10,10.5,11,11.5,12,12.5,13,13.5,14,14.5,15,15.5,16,16.5,17,17.5,18,18.5,19,19.5,20,20.5,21,21.5,22,22.5,23,23.5,24,24.5,25,25.5,26,26.5,27,27.5,28,28.5,29,29.5,30,30.5,31,31.5,32,32.5,33,33.5,34,34.5,35,35.5,36], "tickSize": 17, "tickWidth": 1.5, "tickColor": "black", "domain": false, "grid": false, "labels": false, "title": null}}, "color": {"field": "phase", "type": "nominal", "scale": {"domain": ["P", "S"], "range": ["#ff0000", "#0000ff"]}, "legend": null}}}
]}
]
}
